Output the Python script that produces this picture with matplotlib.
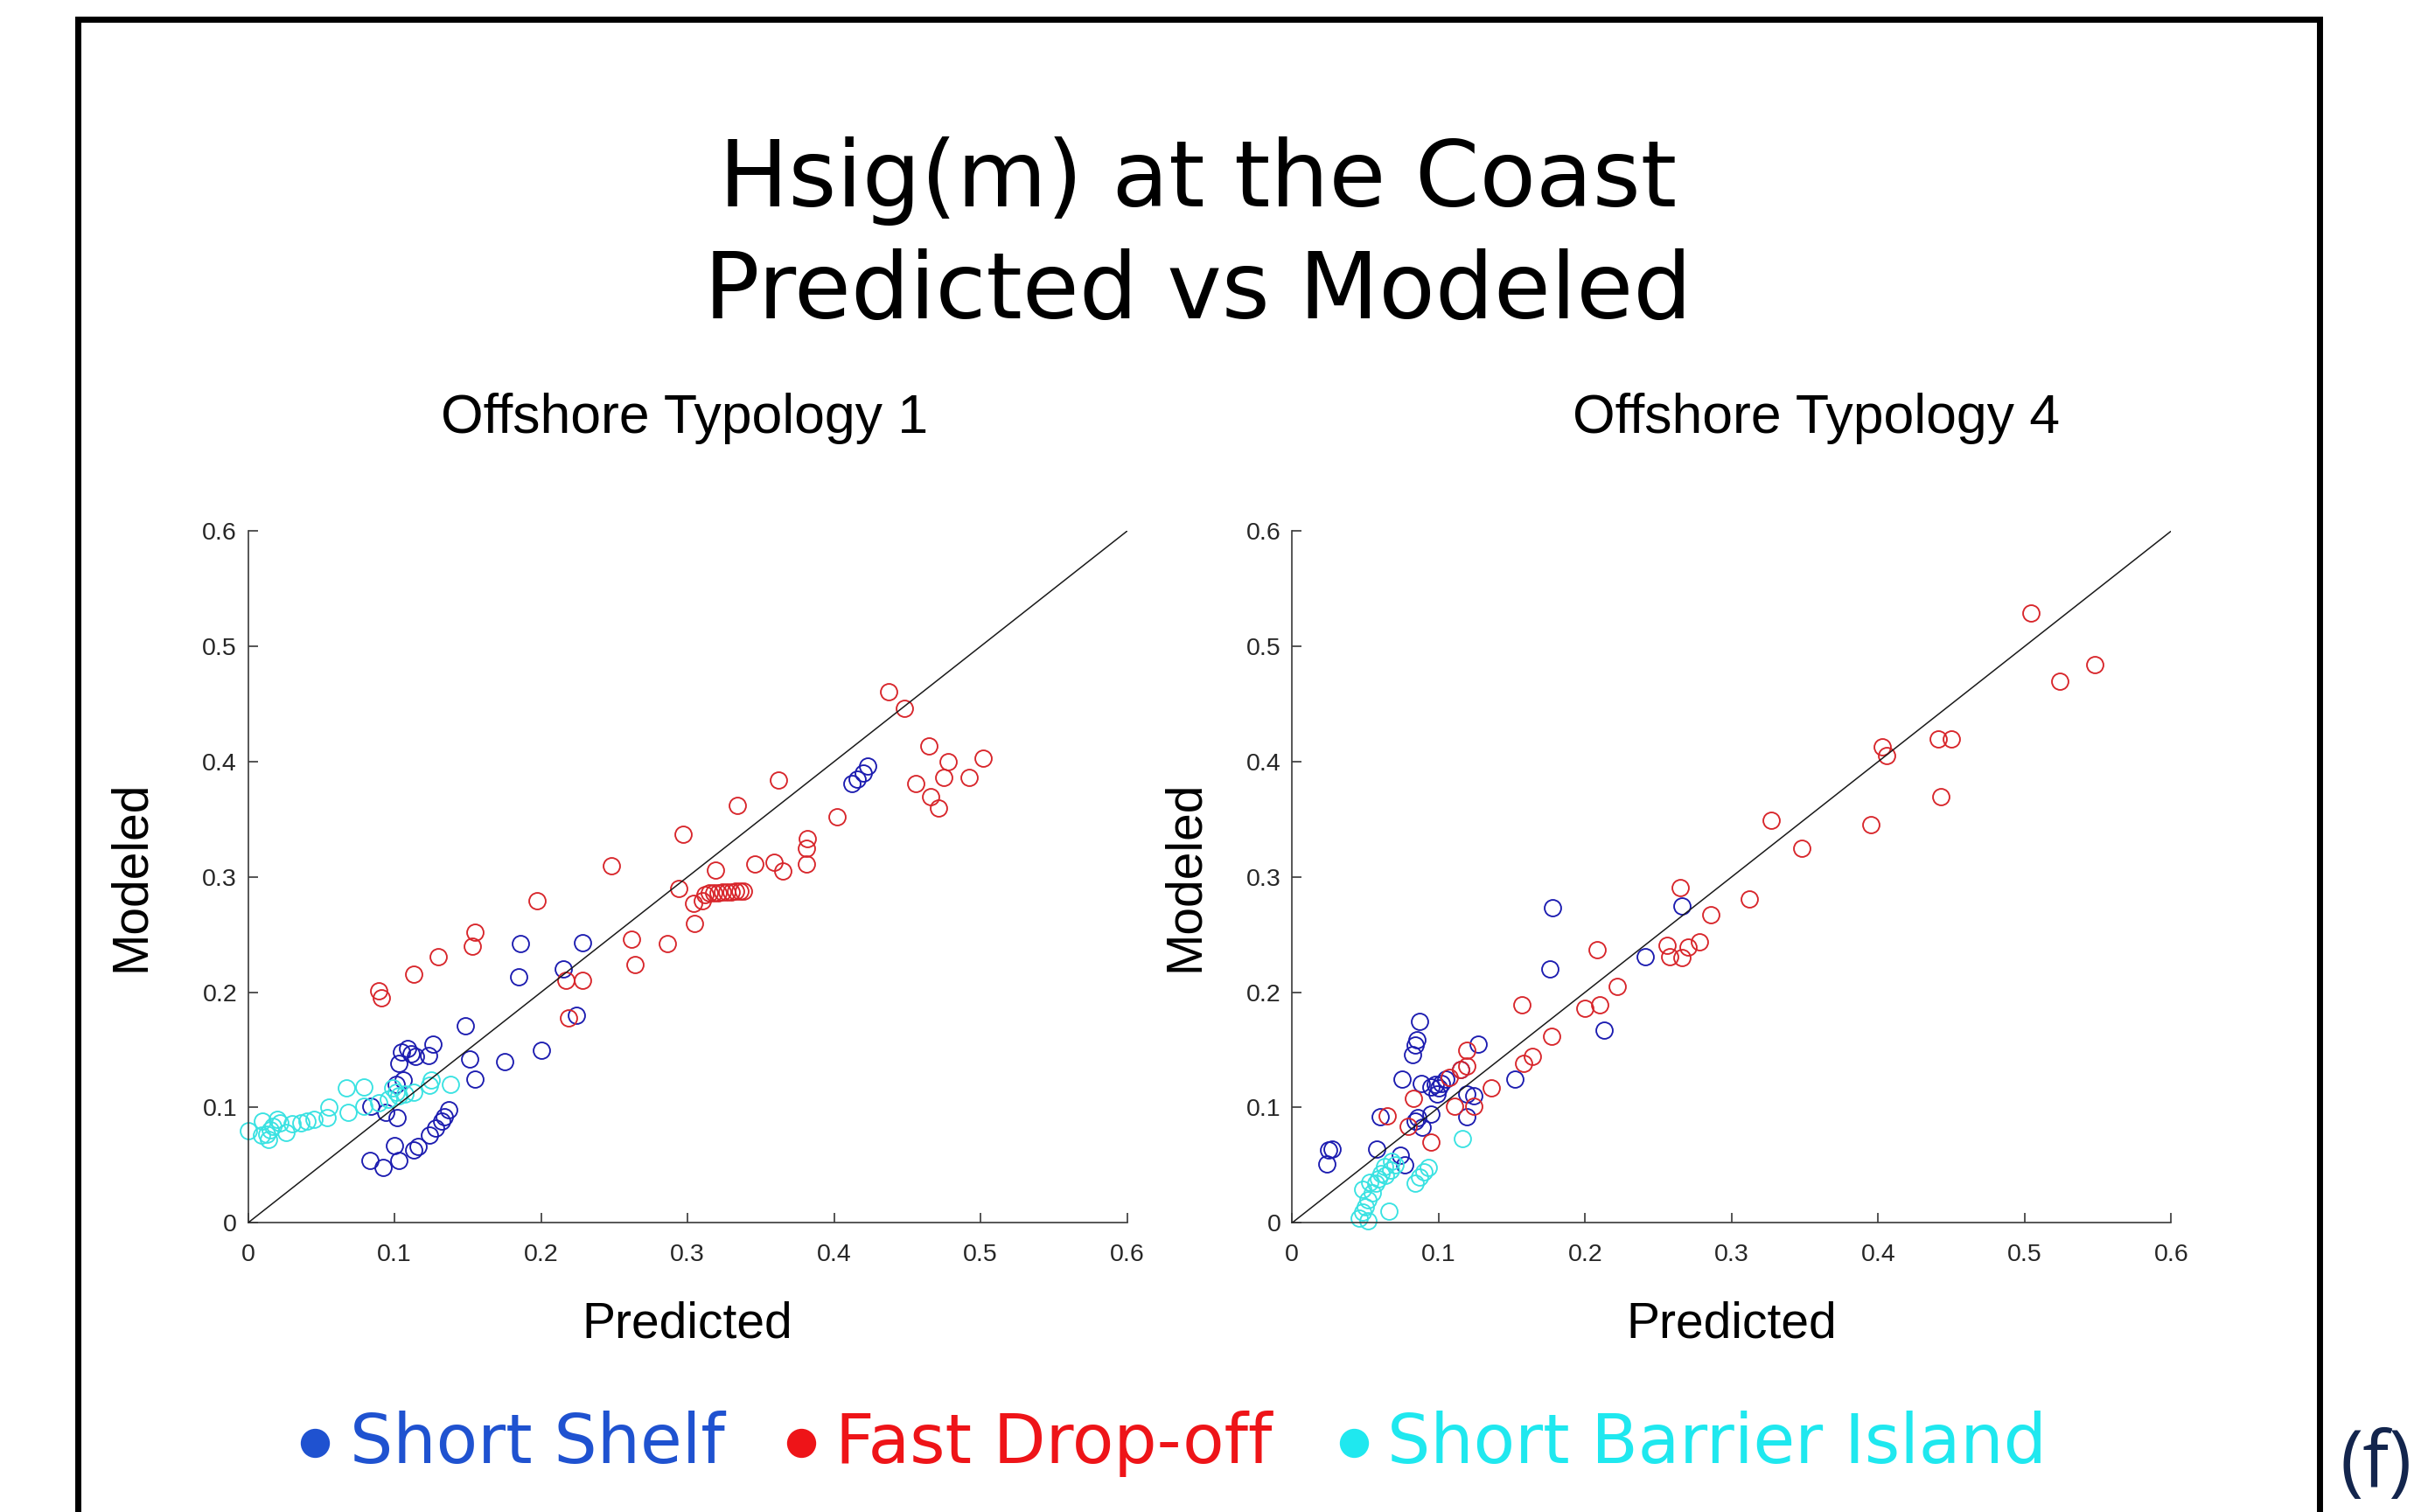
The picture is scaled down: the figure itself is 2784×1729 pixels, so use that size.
import matplotlib.pyplot as plt
import matplotlib.patches as patches
from matplotlib.lines import Line2D

# ---- data ----
ticks = [0, 0.1, 0.2, 0.3, 0.4, 0.5, 0.6]
tick_labels = ["0", "0.1", "0.2", "0.3", "0.4", "0.5", "0.6"]
panel_titles = ["Offshore Typology 1", "Offshore Typology 4"]
series_names = ["Short Shelf", "Fast Drop-off", "Short Barrier Island"]

# Offshore Typology 1
t1_shelf_x = [0.186, 0.228, 0.185, 0.215, 0.224, 0.148, 0.200, 0.175, 0.151, 0.155,
              0.126, 0.105, 0.109, 0.111, 0.114, 0.123, 0.103, 0.106, 0.101, 0.084,
              0.094, 0.102, 0.100, 0.113, 0.116, 0.124, 0.128, 0.132, 0.134, 0.137,
              0.083, 0.092, 0.103, 0.412, 0.416, 0.420, 0.423]
t1_shelf_y = [0.242, 0.243, 0.213, 0.220, 0.180, 0.171, 0.150, 0.140, 0.142, 0.125,
              0.155, 0.148, 0.151, 0.147, 0.144, 0.145, 0.138, 0.124, 0.120, 0.101,
              0.096, 0.091, 0.067, 0.063, 0.066, 0.076, 0.082, 0.088, 0.092, 0.098,
              0.054, 0.048, 0.054, 0.381, 0.385, 0.390, 0.396]

t1_drop_x = [0.155, 0.153, 0.130, 0.113, 0.089, 0.091, 0.197, 0.248, 0.262, 0.286,
             0.264, 0.305, 0.217, 0.228, 0.219, 0.297, 0.334, 0.362, 0.437, 0.448,
             0.465, 0.478, 0.502, 0.475, 0.492, 0.456, 0.466, 0.471, 0.402, 0.382,
             0.381, 0.381, 0.346, 0.359, 0.365, 0.319, 0.294, 0.304, 0.310,
             0.312, 0.315, 0.318, 0.321, 0.324, 0.327, 0.330, 0.333, 0.336, 0.338]
t1_drop_y = [0.252, 0.240, 0.231, 0.216, 0.201, 0.195, 0.279, 0.310, 0.246, 0.242,
             0.224, 0.260, 0.210, 0.210, 0.178, 0.337, 0.362, 0.384, 0.461, 0.446,
             0.414, 0.400, 0.403, 0.386, 0.386, 0.381, 0.370, 0.360, 0.352, 0.333,
             0.325, 0.311, 0.311, 0.313, 0.305, 0.306, 0.290, 0.277, 0.279,
             0.285, 0.286, 0.286, 0.286, 0.287, 0.287, 0.287, 0.288, 0.288, 0.288]

t1_barrier_x = [0.067, 0.079, 0.125, 0.124, 0.138, 0.113, 0.107, 0.099, 0.101, 0.103,
                0.096, 0.089, 0.079, 0.068, 0.055, 0.054, 0.045, 0.040, 0.036, 0.030,
                0.026, 0.022, 0.017, 0.015, 0.013, 0.014, 0.009, 0.000, 0.010, 0.020]
t1_barrier_y = [0.117, 0.118, 0.124, 0.119, 0.120, 0.113, 0.112, 0.117, 0.113, 0.110,
                0.107, 0.104, 0.101, 0.096, 0.100, 0.091, 0.090, 0.088, 0.087, 0.086,
                0.078, 0.087, 0.084, 0.081, 0.077, 0.072, 0.076, 0.080, 0.088, 0.090]

# Offshore Typology 4
t4_shelf_x = [0.178, 0.176, 0.213, 0.266, 0.241, 0.087, 0.085, 0.084, 0.082, 0.127,
              0.075, 0.088, 0.095, 0.098, 0.100, 0.102, 0.099, 0.105, 0.115, 0.152,
              0.119, 0.124, 0.119, 0.095, 0.086, 0.089, 0.084, 0.060, 0.058, 0.027,
              0.025, 0.024, 0.074, 0.077]
t4_shelf_y = [0.273, 0.220, 0.167, 0.275, 0.231, 0.175, 0.159, 0.154, 0.146, 0.155,
              0.125, 0.121, 0.118, 0.120, 0.117, 0.121, 0.112, 0.125, 0.133, 0.125,
              0.112, 0.110, 0.092, 0.094, 0.091, 0.083, 0.088, 0.092, 0.064, 0.064,
              0.063, 0.051, 0.059, 0.050]

t4_drop_x = [0.504, 0.548, 0.524, 0.441, 0.450, 0.403, 0.406, 0.443, 0.395, 0.327,
             0.348, 0.265, 0.312, 0.286, 0.278, 0.270, 0.256, 0.258, 0.266, 0.208,
             0.222, 0.210, 0.200, 0.157, 0.177, 0.164, 0.158, 0.136, 0.119, 0.119,
             0.115, 0.107, 0.111, 0.124, 0.083, 0.065, 0.079, 0.095]
t4_drop_y = [0.529, 0.484, 0.470, 0.420, 0.420, 0.413, 0.405, 0.370, 0.345, 0.349,
             0.325, 0.291, 0.281, 0.267, 0.244, 0.239, 0.241, 0.231, 0.230, 0.237,
             0.205, 0.189, 0.186, 0.189, 0.162, 0.144, 0.138, 0.117, 0.150, 0.136,
             0.133, 0.126, 0.101, 0.101, 0.108, 0.093, 0.084, 0.070]

t4_barrier_x = [0.116, 0.093, 0.090, 0.087, 0.084, 0.066, 0.070, 0.067, 0.064, 0.061,
                0.059, 0.057, 0.053, 0.048, 0.055, 0.052, 0.050, 0.048, 0.046, 0.052,
                0.063, 0.068]
t4_barrier_y = [0.073, 0.048, 0.044, 0.040, 0.034, 0.010, 0.050, 0.046, 0.041, 0.043,
                0.038, 0.034, 0.035, 0.029, 0.026, 0.020, 0.014, 0.009, 0.004, 0.002,
                0.049, 0.053]

panels = [
    [(t1_shelf_x, t1_shelf_y), (t1_drop_x, t1_drop_y), (t1_barrier_x, t1_barrier_y)],
    [(t4_shelf_x, t4_shelf_y), (t4_drop_x, t4_drop_y), (t4_barrier_x, t4_barrier_y)],
]

marker_colors = ["#1c1cb0", "#d8262b", "#3ae2e2"]
legend_colors = ["#1f52d0", "#ee1418", "#1fe8ef"]

W, H = 2784, 1729
fig = plt.figure(figsize=(W / 100, H / 100), dpi=100)


def fx(px):
    return px / W


def fy(py):
    return 1 - py / H


axes_left = [283.6, 1477.3]
ax_w = 1005
title_x = [783, 2077]
ylabel_x = [150, 1355]

for k, data in enumerate(panels):
    ax = fig.add_axes([fx(axes_left[k]), fy(1398.3), fx(ax_w), 791 / H])
    for (xs, ys), c in zip(data, marker_colors):
        ax.plot(xs, ys, 'o', ms=13.6, mfc='none', mec=c, mew=1.35, zorder=2, clip_on=False)
    ax.plot([0, 0.6], [0, 0.6], color='#1a1a1a', lw=1.1, zorder=3)
    ax.set_xlim(0, 0.6)
    ax.set_ylim(0, 0.6)
    ax.set_xticks(ticks)
    ax.set_yticks(ticks)
    ax.set_xticklabels(tick_labels, family='Liberation Sans', fontsize=20.5, color='#262626')
    ax.set_yticklabels(tick_labels, family='Liberation Sans', fontsize=20.5, color='#262626')
    ax.tick_params(axis='x', direction='in', length=8, width=1.1, color='#262626', pad=17)
    ax.tick_params(axis='y', direction='in', length=8, width=1.1, color='#262626', pad=9)
    for side in ['top', 'right']:
        ax.spines[side].set_visible(False)
    for side in ['left', 'bottom']:
        ax.spines[side].set_color('#3a3a3a')
        ax.spines[side].set_linewidth(1.2)

    fig.text(fx(title_x[k]), fy(495), panel_titles[k], family='Liberation Sans',
             fontsize=45, ha='center', va='baseline', color='black')
    fig.text(fx(axes_left[k] + 0.5 * ax_w), fy(1529), "Predicted", family='Liberation Sans',
             fontsize=41, ha='center', va='baseline', color='black')
    fig.text(fx(ylabel_x[k]), fy(1002), "Modeled", family='Liberation Sans',
             fontsize=41, ha='center', va='center', rotation=90, color='black')

# main title
fig.text(fx(1370), fy(236), "Hsig(m) at the Coast", fontsize=76, ha='center',
         va='baseline', color='black')
fig.text(fx(1370), fy(364), "Predicted vs Modeled", fontsize=76, ha='center',
         va='baseline', color='black')

# legend row
dot_x = [360, 916, 1548]
text_x = [400, 955, 1586]
for name, c, dx, tx in zip(series_names, legend_colors, dot_x, text_x):
    fig.add_artist(Line2D([fx(dx)], [fy(1650)], marker='o', ms=24, color=c,
                          mec='none', transform=fig.transFigure))
    fig.text(fx(tx), fy(1673), name, fontsize=56, color=c, ha='left', va='baseline')

# frame around the panel
fig.add_artist(patches.Rectangle((fx(88.5), fy(1800)), fx(2651.5 - 88.5), (1800 - 21.5) / H,
                                 fill=False, ec='black', lw=5, transform=fig.transFigure,
                                 clip_on=False))

fig.text(fx(2717), fy(1677), "(f)", family='Open Sans', fontsize=64, color='#13254d',
         ha='center', va='center')

fig.savefig("out.png", dpi=100)
